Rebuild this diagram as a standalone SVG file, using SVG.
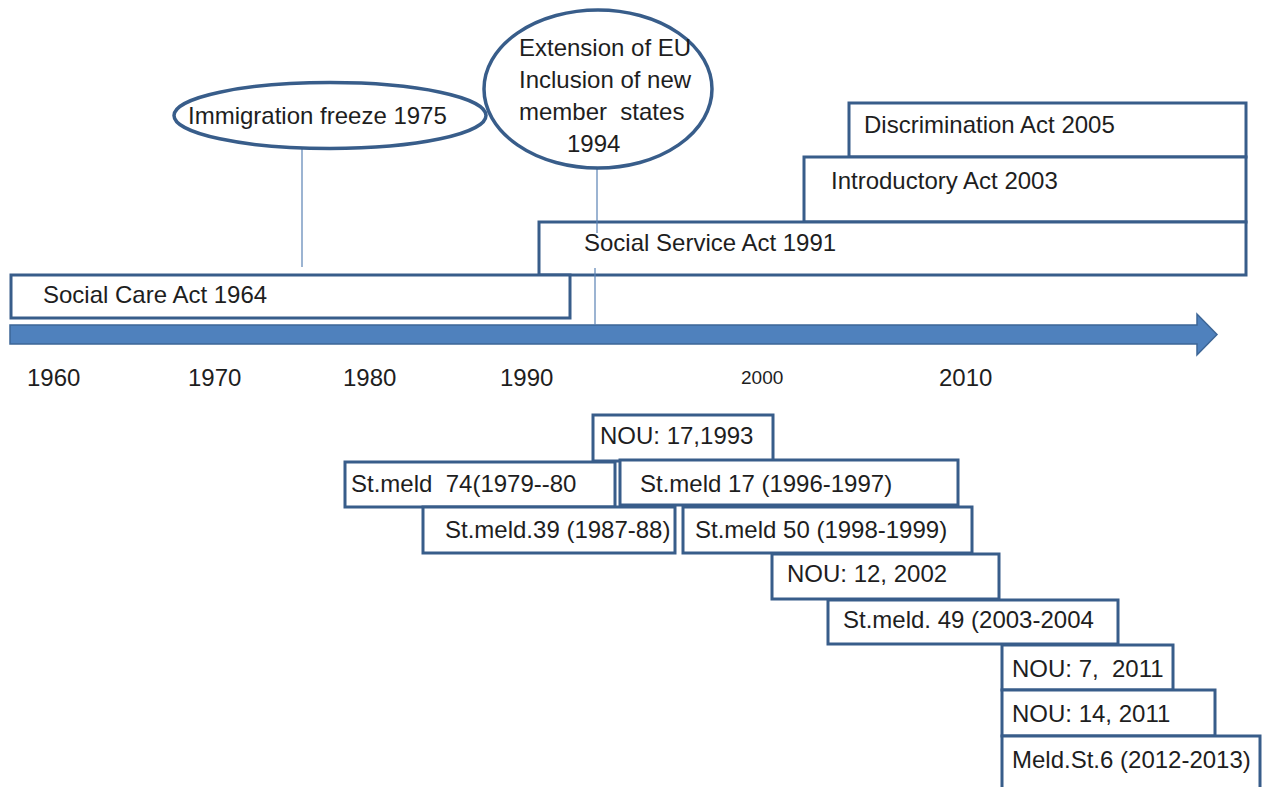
<svg xmlns="http://www.w3.org/2000/svg" width="1273" height="787" viewBox="0 0 1273 787">
<style>
text{font-family:"Liberation Sans",Arial,sans-serif;font-size:24px;fill:#1e1e1e}
.box{fill:#fff;stroke:#385d8a;stroke-width:3}
.ell{fill:#fff;stroke:#385d8a;stroke-width:3.5}
.conn{stroke:#5a82b4;stroke-width:1.2;fill:none}
.yr{font-size:24px}
.yrs{font-size:19px}
</style>
<rect width="1273" height="787" fill="#fff"/>
<g id="timeline">
<path d="M10,325 H1197 V314 L1217,334.5 L1197,355 V344 H10 Z" fill="#4f81bd" stroke="#3d6696" stroke-width="1.5"/>
</g>
<g id="years">
<text class="yr" x="27" y="386">1960</text>
<text class="yr" x="188" y="386">1970</text>
<text class="yr" x="343" y="386">1980</text>
<text class="yr" x="500" y="386">1990</text>
<text class="yrs" x="741" y="384">2000</text>
<text class="yr" x="939" y="386">2010</text>
</g>
<g id="act-discrimination"><rect class="box" x="849" y="103" width="397" height="54"/><text x="864" y="133">Discrimination Act 2005</text></g>
<g id="act-introductory"><rect class="box" x="804" y="157" width="442" height="65"/><text x="831" y="189">Introductory Act 2003</text></g>
<g id="act-socialservice"><rect class="box" x="539" y="222" width="707" height="53"/><text x="584" y="251">Social Service Act 1991</text></g>
<g id="act-socialcare"><rect class="box" x="11" y="275" width="559" height="43"/><text x="43" y="303">Social Care Act 1964</text></g>
<g id="connectors">
<line class="conn" x1="302" y1="149" x2="302" y2="267"/>
<line class="conn" x1="597" y1="168" x2="597" y2="233"/>
<line class="conn" x1="595" y1="268" x2="595" y2="325"/>
</g>
<g id="event-immigration"><ellipse class="ell" cx="330" cy="115.5" rx="156" ry="33"/><text x="188" y="124">Immigration freeze 1975</text></g>
<g id="event-eu"><ellipse class="ell" cx="598" cy="89" rx="114" ry="79"/>
<text x="519" y="56">Extension of EU</text>
<text x="519" y="88">Inclusion of new</text>
<text x="519" y="120" xml:space="preserve">member  states</text>
<text x="567" y="152">1994</text>
</g>
<g id="nou-17-1993"><rect class="box" x="593" y="415" width="180" height="46"/><text x="600" y="444">NOU: 17,1993</text></g>
<g id="stmeld-74"><rect class="box" x="345" y="462" width="270" height="45"/><text x="351" y="492" xml:space="preserve">St.meld  74(1979--80</text></g>
<g id="stmeld-17"><rect class="box" x="620" y="460" width="338" height="45"/><text x="640" y="492">St.meld 17 (1996-1997)</text></g>
<g id="stmeld-39"><rect class="box" x="423" y="507" width="252" height="46"/><text x="445" y="538">St.meld.39 (1987-88)</text></g>
<g id="stmeld-50"><rect class="box" x="683" y="507" width="289" height="46"/><text x="695" y="538">St.meld 50 (1998-1999)</text></g>
<g id="nou-12-2002"><rect class="box" x="772" y="554" width="227" height="45"/><text x="787" y="582">NOU: 12, 2002</text></g>
<g id="stmeld-49"><rect class="box" x="828" y="600" width="290" height="44"/><text x="843" y="628">St.meld. 49 (2003-2004</text></g>
<g id="nou-7-2011"><rect class="box" x="1002" y="645" width="171" height="45"/><text x="1012" y="677" xml:space="preserve">NOU: 7,  2011</text></g>
<g id="nou-14-2011"><rect class="box" x="1002" y="690" width="213" height="46"/><text x="1012" y="722">NOU: 14, 2011</text></g>
<g id="meldst-6"><rect class="box" x="1002" y="736" width="258" height="70"/><text x="1012" y="768">Meld.St.6 (2012-2013)</text></g>
</svg>
